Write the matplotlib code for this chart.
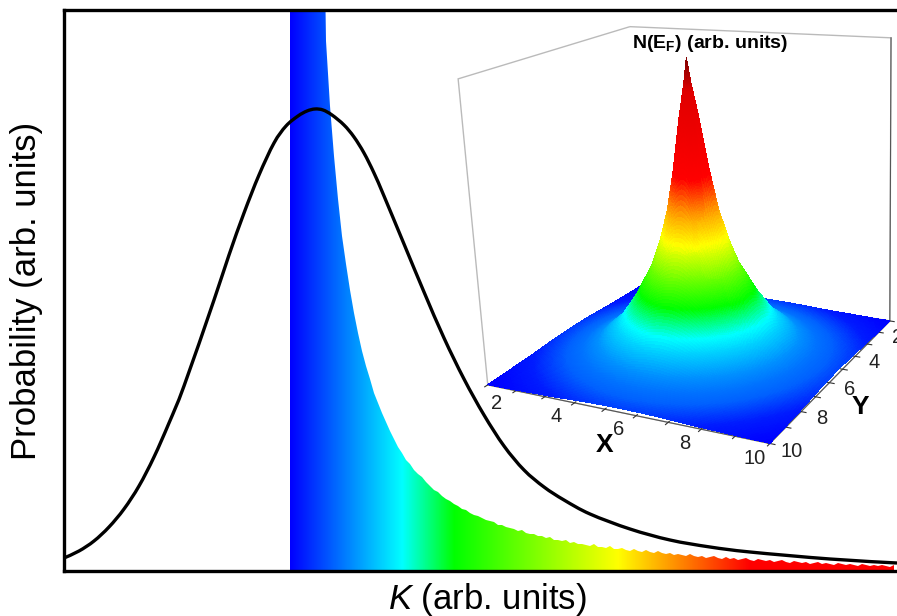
import numpy as np
import matplotlib
matplotlib.use('Agg')
import matplotlib.pyplot as plt
from matplotlib.colors import LinearSegmentedColormap
from matplotlib.path import Path
from matplotlib.patches import PathPatch
from mpl_toolkits.mplot3d import proj3d

plt.rcParams['font.family'] = ['Liberation Sans', 'DejaVu Sans']
plt.rcParams['mathtext.fontset'] = 'custom'
plt.rcParams['mathtext.bf'] = 'Liberation Sans:bold'
plt.rcParams['mathtext.it'] = 'Liberation Sans:italic'
plt.rcParams['mathtext.rm'] = 'Liberation Sans'

# black curve
curve_k = [0, 15, 30, 45, 60, 75, 90, 105, 120, 150, 165, 180, 195, 210, 222, 234, 243, 251, 259, 268,
           280, 290, 300, 310, 320, 340, 360, 380, 400, 420, 440, 460, 480, 500, 526, 566,
           606, 646, 686, 766, 833]
curve_p = [13, 20, 30, 44, 62, 85, 114, 148, 185, 271, 316, 358, 396, 428, 445, 455, 460, 462, 461, 456,
           446, 434, 418, 398, 375, 327, 279, 233, 192, 156, 125, 101, 84, 71, 57, 42,
           31, 24, 19, 12, 8]

# histogram heights, 4 units apart starting at hist_start
hist_start = 226
hist_width = 4
hist_p = [800, 800, 800, 800, 800, 800, 800, 800, 800,
          530, 465, 415, 372, 335, 307, 281, 258, 238, 220, 205, 192, 178, 168, 158,
          149, 140, 132, 124, 118, 111, 107, 101, 97, 94, 89, 85, 81, 79, 75, 72,
          70, 67, 65, 62, 61, 58, 56, 55, 53, 51, 50, 49, 46, 46, 44, 43,
          42, 40, 41, 38, 37, 37, 35, 35, 33, 34, 31, 31, 30, 31, 28, 29,
          27, 27, 26, 25, 27, 24, 24, 23, 25, 22, 22, 23, 21, 20, 22, 20,
          19, 21, 19, 18, 20, 18, 17, 18, 16, 17, 16, 15, 17, 15, 14, 15,
          13, 14, 15, 13, 12, 14, 12, 13, 11, 12, 13, 11, 10, 12, 11, 10,
          11, 9, 10, 11, 9, 8, 10, 9, 8, 9, 7, 8, 9, 7, 8, 7, 6, 8, 7, 6,
          7, 6, 5, 7, 6, 5, 6, 5, 6, 5, 4, 6]

# colours along K
grad_k = [226, 338, 390, 554, 686, 833]
grad_c = ['#0000ff', '#00ffff', '#00ff00', '#ffff00', '#ff0000', '#ff0000']

# inset: radial profile of N(EF) around the peak
prof_r = [0, 0.1, 0.28, 0.53, 0.75, 1.03, 1.3, 1.6, 1.85, 2.1, 2.4, 3.0, 3.5, 4.0, 5.0, 6.0, 9]
prof_z = [1, 0.92, 0.81, 0.63, 0.50, 0.39, 0.31, 0.25, 0.20, 0.16, 0.115, 0.06, 0.035, 0.02, 0.006, 0.001, 0]
z_stops = [0, 0.02, 0.15, 0.23, 0.42, 0.53, 0.63, 0.9, 1]
z_colors = ['#0000ff', '#0060ff', '#00ffff', '#00ff00', '#ffff00', '#ff9000', '#ff0000', '#e00000', '#800000']
ticks_3d = list(range(1, 11))
labels_3d = [2, 4, 6, 8, 10]
peak_x = 5.55
peak_y = 5.5


def smooth_path(xs, ys):
    # catmull-rom through the read points, as cubic segments
    pts = np.column_stack([xs, ys])
    verts = [pts[0]]
    codes = [Path.MOVETO]
    for i in range(len(pts) - 1):
        p0 = pts[max(i - 1, 0)]
        p3 = pts[min(i + 2, len(pts) - 1)]
        verts += [pts[i] + (pts[i + 1] - p0) / 6, pts[i + 1] - (p3 - pts[i]) / 6, pts[i + 1]]
        codes += [Path.CURVE4] * 3
    return Path(verts, codes)


def grid_around(c, lo=1, hi=10, n=121):
    # sampling of the surface, fine close to the peak
    u = np.linspace(0, 1, n) ** 2.2
    return np.r_[c - (c - lo) * u[::-1], c + (hi - c) * u[1:]]


fig = plt.figure(figsize=(8.97, 6.16), dpi=100)
ax = fig.add_axes([64 / 897, 1 - 571 / 616, 833 / 897, 561 / 616])

cmap = LinearSegmentedColormap.from_list(
    'hist', [((k - grad_k[0]) / (grad_k[-1] - grad_k[0]), c) for k, c in zip(grad_k, grad_c)], N=1024)
hist_k = hist_start + hist_width * np.arange(len(hist_p))
poly = ax.fill_between(hist_k, hist_p, 0, color='none')
im = ax.imshow(np.linspace(0, 1, 800)[None, :], extent=(grad_k[0], grad_k[-1], 0, 561),
               aspect='auto', cmap=cmap, interpolation='bilinear')
im.set_clip_path(poly.get_paths()[0], transform=ax.transData)

ax.add_patch(PathPatch(smooth_path(curve_k, curve_p), fc='none', ec='k', lw=2.4))
ax.set_xlim(0, 833)
ax.set_ylim(0, 561)
ax.set_xticks([])
ax.set_yticks([])
ax.spines['right'].set_visible(False)
for s in ['left', 'top', 'bottom']:
    ax.spines[s].set_linewidth(2.4)
ax.set_xlabel(r'$\mathit{K}$ (arb. units)', fontsize=25, labelpad=7, x=0.508)
ax.set_ylabel('Probability (arb. units)', fontsize=25, labelpad=15)

# inset
ax3 = fig.add_axes([450 / 897, 1 - 456 / 616, 470 / 897, 480 / 616], projection='3d')
ax3.patch.set_alpha(0)
X, Y = np.meshgrid(grid_around(peak_x), grid_around(peak_y))
r = np.hypot(X - peak_x, Y - peak_y)
Z = np.interp(r, prof_r, prof_z)
zmap = LinearSegmentedColormap.from_list('z', list(zip(z_stops, z_colors)), N=2048)
ax3.plot_surface(X, Y, Z, facecolors=zmap(Z), rcount=X.shape[0], ccount=X.shape[1],
                 linewidth=0, antialiased=False, shade=False)
ax3.set_proj_type('persp', focal_length=0.5)
ax3.view_init(elev=17, azim=-61, roll=2.5)
ax3.set_xlim(1, 10)
ax3.set_ylim(10, 1)
ax3.set_zlim(0, 1.0)
ax3.set_box_aspect((1, 1, 1.0), zoom=1.1)
ax3.grid(False)
ax3.set_xticks(ticks_3d)
ax3.set_yticks(ticks_3d)
ax3.set_zticks([])
ax3.tick_params(colors='#333333')
for a in [ax3.xaxis, ax3.yaxis, ax3.zaxis]:
    a.pane.set_facecolor((1, 1, 1, 0))
    a.pane.set_edgecolor('#777777')
    a.line.set_color('#555555')
# the labels go on by hand, the two axes need different offsets
for a in [ax3.xaxis, ax3.yaxis]:
    a.set_major_formatter(plt.NullFormatter())
M = ax3.get_proj()
for v in labels_3d:
    for px, py, pz in [(v, 10.9, 0), (10.6, v, -0.01)]:
        sx, sy, _ = proj3d.proj_transform(px, py, pz, M)
        fig.text(sx, sy, str(v), transform=ax3.transData, fontsize=14.5, color='#222222',
                 ha='center', va='center')

fig.text(605 / 897, 1 - 445 / 616, 'X', fontsize=19, fontweight='bold', ha='center', va='center')
fig.text(860 / 897, 1 - 407 / 616, 'Y', fontsize=19, fontweight='bold', ha='center', va='center')
fig.text(632 / 897, 1 - 44 / 616, r'N(E$_{\mathbf{F}}$) (arb. units)', fontsize=14,
         fontweight='bold', ha='left', va='center')

fig.savefig('out.png', dpi=100)
